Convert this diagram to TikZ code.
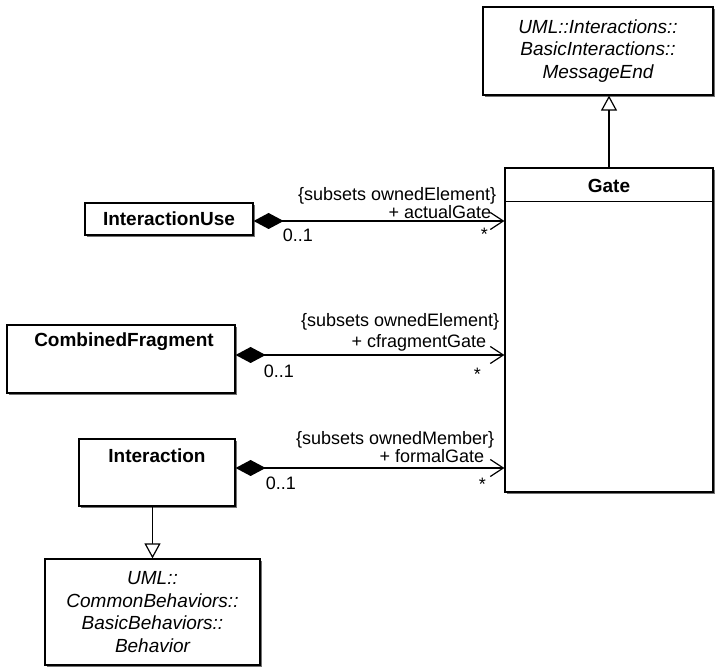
\documentclass[tikz,border=0pt]{standalone}
\usepackage{fontspec}
\setmainfont{Liberation Sans}
\usetikzlibrary{arrows.meta,shadows}
\begin{document}
\begin{tikzpicture}[
            x=1pt, y=-1pt,
            classbox/.style={rectangle, draw, line width=1.2pt, fill=white, inner sep=0pt,
                drop shadow={shadow xshift=2pt, shadow yshift=-2pt, fill=black!55, opacity=1}},
            classname/.style={font=\fontsize{19}{22.5}\selectfont\bfseries, inner sep=0pt},
            abstractname/.style={font=\fontsize{19}{22.5}\selectfont\itshape, align=center},
            rolelabel/.style={font=\fontsize{18}{20}\selectfont, inner sep=0pt},
            composition/.style={line width=1.2pt, {Diamond[length=30pt,width=16pt]}-{Straight Barb[length=13pt,width=17pt]}},
            generalization/.style={line width=1.2pt, -{Triangle[open,length=15pt,width=16pt,fill=white]}}
        ]
            \useasboundingbox (0,0) rectangle (716,668);
            \node[classbox, abstractname, minimum width=230pt, minimum height=88pt] (msgend) at (598,51) {UML::Interactions::\\BasicInteractions::\\MessageEnd};
            \node[classbox, minimum width=208pt, minimum height=324pt] (gate) at (609,330) {};
            \draw[line width=1.2pt] ([yshift=-34pt]gate.north west) -- ([yshift=-34pt]gate.north east);
            \node[classname, anchor=base] (gatename) at ([yshift=-25pt]gate.north) {Gate};
            \node[classbox, classname, minimum width=168pt, minimum height=32pt] (iuse) at (169,219) {InteractionUse};
            \node[classbox, minimum width=228pt, minimum height=68pt] (cfrag) at (121,359) {};
            \node[classname, anchor=base] (cfragname) at ([xshift=3pt, yshift=-22pt]cfrag.north) {CombinedFragment};
            \node[classbox, minimum width=156pt, minimum height=67pt] (inter) at (157,472.5) {};
            \node[classname, anchor=base] (intername) at ([yshift=-24pt]inter.north) {Interaction};
            \node[classbox, abstractname, minimum width=215pt, minimum height=106pt] (behav) at (152.5,612) {UML::\\CommonBehaviors::\\BasicBehaviors::\\Behavior};
            \draw[generalization] (gate.north) -- (gate.north |- msgend.south);
            \draw[generalization] (inter.south -| behav.north) -- (behav.north);
            \coordinate (s1) at ([yshift=-2pt]iuse.east);
            \coordinate (s2) at ([yshift=4pt]cfrag.east);
            \coordinate (s3) at ([yshift=4.5pt]inter.east);
            \coordinate (e1) at (s1 -| gate.west);
            \coordinate (e2) at (s2 -| gate.west);
            \coordinate (e3) at (s3 -| gate.west);
            \draw[composition] (s1) -- (e1);
            \draw[composition] (s2) -- (e2);
            \draw[composition] (s3) -- (e3);
            \node[rolelabel, anchor=base east] (r1c) at ([xshift=-8pt, yshift=20pt]e1) {\{subsets ownedElement\}};
            \node[rolelabel, anchor=base east] (r1n) at ([xshift=-13pt, yshift=2pt]e1) {+ actualGate};
            \node[rolelabel, anchor=base] (r1m) at ([xshift=-20pt, yshift=-20pt]e1) {*};
            \node[rolelabel, anchor=base west] (r1o) at ([xshift=29pt, yshift=-21pt]s1) {0..1};
            \node[rolelabel, anchor=base east] (r2c) at ([xshift=-5pt, yshift=28pt]e2) {\{subsets ownedElement\}};
            \node[rolelabel, anchor=base east] (r2n) at ([xshift=-18pt, yshift=7pt]e2) {+ cfragmentGate};
            \node[rolelabel, anchor=base] (r2m) at ([xshift=-27pt, yshift=-26pt]e2) {*};
            \node[rolelabel, anchor=base west] (r2o) at ([xshift=28pt, yshift=-23pt]s2) {0..1};
            \node[rolelabel, anchor=base east] (r3c) at ([xshift=-10pt, yshift=23pt]e3) {\{subsets ownedMember\}};
            \node[rolelabel, anchor=base east] (r3n) at ([xshift=-20pt, yshift=5pt]e3) {+ formalGate};
            \node[rolelabel, anchor=base] (r3m) at ([xshift=-22pt, yshift=-23pt]e3) {*};
            \node[rolelabel, anchor=base west] (r3o) at ([xshift=30pt, yshift=-22pt]s3) {0..1};
        \end{tikzpicture}
\end{document}
